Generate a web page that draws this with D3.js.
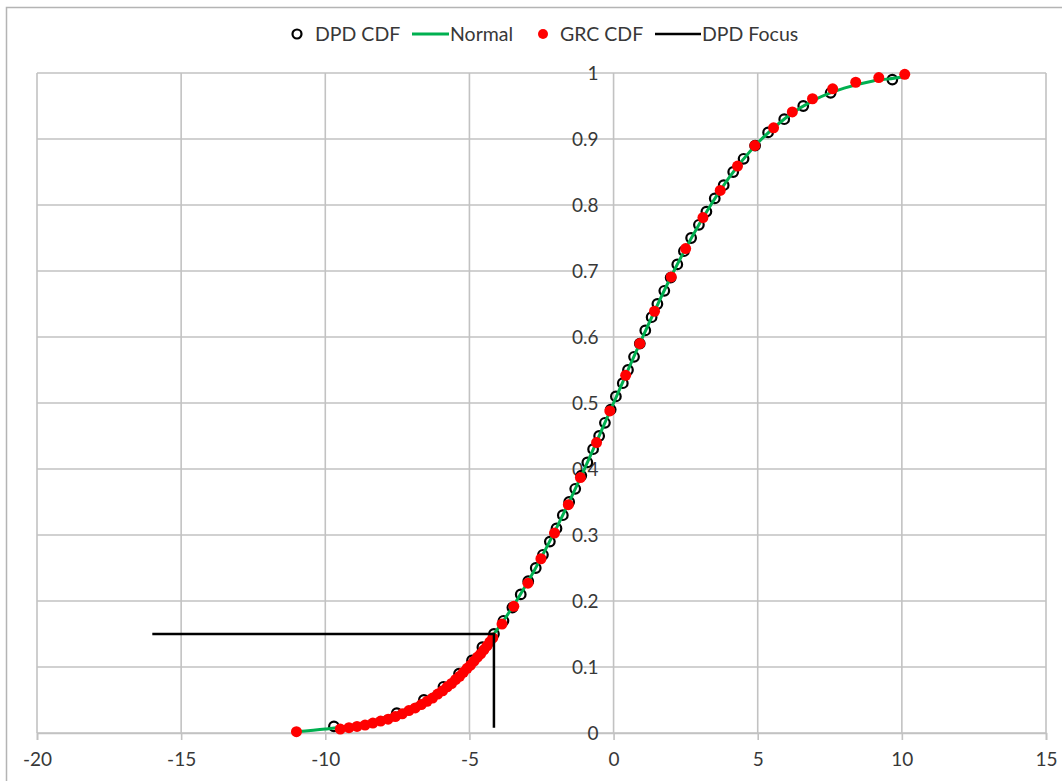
<html>
<head>
<meta charset="utf-8">
<style>
  body { margin: 0; background: #fff; }
  svg text { font-family: Lato, "Open Sans", sans-serif; }
</style>
</head>
<body>
<svg width="1062" height="781" id="chart"></svg>
<script src="https://cdn.jsdelivr.net/npm/d3@7/dist/d3.min.js"></script>
<script>
// DPD CDF (open circles)
var dpdX = [-9.7, -7.52, -6.58, -5.9, -5.36, -4.91, -4.55, -4.15, -3.82, -3.51,
            -3.22, -2.96, -2.7, -2.45, -2.21, -1.98, -1.76, -1.54, -1.33, -1.12,
            -0.91, -0.71, -0.5, -0.3, -0.1, 0.08, 0.32, 0.5, 0.71, 0.91,
            1.1, 1.32, 1.52, 1.76, 1.98, 2.21, 2.44, 2.69, 2.96, 3.22,
            3.51, 3.82, 4.15, 4.51, 4.91, 5.36, 5.92, 6.58, 7.53, 9.67];
var dpdY = [0.01, 0.03, 0.05, 0.07, 0.09, 0.11, 0.13, 0.15, 0.17, 0.19,
            0.21, 0.23, 0.25, 0.27, 0.29, 0.31, 0.33, 0.35, 0.37, 0.39,
            0.41, 0.43, 0.45, 0.47, 0.49, 0.51, 0.53, 0.55, 0.57, 0.59,
            0.61, 0.63, 0.65, 0.67, 0.69, 0.71, 0.73, 0.75, 0.77, 0.79,
            0.81, 0.83, 0.85, 0.87, 0.89, 0.91, 0.93, 0.95, 0.97, 0.99];

// Normal (green line)
var normX = [-11, -10, -9, -8, -7, -6, -5, -4, -3, -2, -1, 0, 1, 2, 3, 4, 5, 6, 7, 8, 9, 10, 10.1];
var normY = [0.002, 0.006, 0.012, 0.023, 0.040, 0.067, 0.106, 0.159, 0.227, 0.309, 0.401, 0.5,
             0.599, 0.692, 0.773, 0.841, 0.894, 0.933, 0.960, 0.977, 0.988, 0.994, 0.995];

// GRC CDF (red dots)
var grcX = [-11.0, -9.48, -9.18, -8.9, -8.62, -8.35, -8.08, -7.82, -7.57, -7.33,
            -7.1, -6.88, -6.67, -6.47, -6.28, -6.1, -5.93, -5.77, -5.62, -5.48,
            -5.34, -5.21, -5.08, -4.96, -4.84, -4.72, -4.61, -4.5, -4.39, -4.29,
            -4.19, -3.87, -3.46, -2.97, -2.52, -2.05, -1.57, -1.15, -0.59, -0.13,
            0.42, 0.91, 1.42, 2.0, 2.5, 3.1, 3.7, 4.3, 4.9, 5.55,
            6.2, 6.9, 7.6, 8.4, 9.2, 10.1];
var grcY = [0.002, 0.006, 0.008, 0.010, 0.012, 0.015, 0.018, 0.021, 0.025, 0.029,
            0.034, 0.038, 0.043, 0.048, 0.053, 0.059, 0.064, 0.070, 0.075, 0.081,
            0.086, 0.092, 0.098, 0.103, 0.109, 0.115, 0.120, 0.126, 0.132, 0.138,
            0.144, 0.165, 0.192, 0.227, 0.264, 0.303, 0.346, 0.387, 0.440, 0.488,
            0.542, 0.590, 0.639, 0.691, 0.734, 0.781, 0.822, 0.859, 0.890, 0.917,
            0.941, 0.961, 0.976, 0.986, 0.993, 0.998];

// DPD Focus (black line)
var focusX = [-16, -4.15, -4.15];
var focusY = [0.15, 0.15, 0.008];

var xTicks = [-20, -15, -10, -5, 0, 5, 10, 15];
var yTicks = [0, 0.1, 0.2, 0.3, 0.4, 0.5, 0.6, 0.7, 0.8, 0.9, 1];

var legendNames = ["DPD CDF", "Normal", "GRC CDF", "DPD Focus"];

var svg = d3.select("#chart");

var x = d3.scaleLinear().domain([-20, 15]).range([37, 1046]);
var y = d3.scaleLinear().domain([0, 1]).range([733, 73]);

var gridColor = "#c2c2c2";
var textColor = "#383838";

// chart frame
svg.append("rect")
  .attr("x", 6.5).attr("y", 7.5)
  .attr("width", 1070).attr("height", 790)
  .attr("fill", "none")
  .attr("stroke", "#b4b4b4")
  .attr("stroke-width", 1.5);

// gridlines
svg.append("g").selectAll("line")
  .data(yTicks)
  .enter().append("line")
  .attr("x1", x(-20)).attr("x2", x(15))
  .attr("y1", function(d) { return y(d); })
  .attr("y2", function(d) { return y(d); })
  .attr("stroke", gridColor)
  .attr("stroke-width", 1.6);

svg.append("g").selectAll("line")
  .data(xTicks)
  .enter().append("line")
  .attr("y1", y(0)).attr("y2", y(1))
  .attr("x1", function(d) { return x(d); })
  .attr("x2", function(d) { return x(d); })
  .attr("stroke", gridColor)
  .attr("stroke-width", 1.6);

// x axis at bottom
var xAxis = svg.append("g")
  .attr("transform", "translate(0," + y(0) + ")")
  .call(d3.axisBottom(x).tickValues(xTicks).tickSize(7).tickPadding(13)
    .tickFormat(function(d) { return String(d); }));
xAxis.select(".domain").attr("stroke", gridColor).attr("stroke-width", 1.6);
xAxis.selectAll(".tick line").attr("stroke", gridColor).attr("stroke-width", 1.6);
xAxis.selectAll("text")
  .attr("fill", textColor)
  .style("font-size", "19px");

// y axis crossing at x = 0
var yAxis = svg.append("g")
  .attr("transform", "translate(" + x(0) + ",0)")
  .call(d3.axisLeft(y).tickValues(yTicks).tickSize(0).tickPadding(15)
    .tickFormat(function(d) { return String(+d.toFixed(1)); }));
yAxis.select(".domain").remove();
yAxis.selectAll("text")
  .attr("fill", textColor)
  .style("font-size", "19px");

// DPD CDF circles
var dpd = dpdX.map(function(v, i) { return [v, dpdY[i]]; });
svg.append("g").selectAll("circle")
  .data(dpd)
  .enter().append("circle")
  .attr("cx", function(d) { return x(d[0]); })
  .attr("cy", function(d) { return y(d[1]); })
  .attr("r", 4.8)
  .attr("fill", "none")
  .attr("stroke", "#000")
  .attr("stroke-width", 2.2);

// Normal line
var norm = normX.map(function(v, i) { return [v, normY[i]]; });
var line = d3.line()
  .x(function(d) { return x(d[0]); })
  .y(function(d) { return y(d[1]); })
  .curve(d3.curveMonotoneX);
svg.append("path")
  .datum(norm)
  .attr("d", line)
  .attr("fill", "none")
  .attr("stroke", "#00b050")
  .attr("stroke-width", 3);

// GRC CDF dots
var grc = grcX.map(function(v, i) { return [v, grcY[i]]; });
svg.append("g").selectAll("circle")
  .data(grc)
  .enter().append("circle")
  .attr("cx", function(d) { return x(d[0]); })
  .attr("cy", function(d) { return y(d[1]); })
  .attr("r", 5.5)
  .attr("fill", "#ff0000");

// DPD Focus
var focus = focusX.map(function(v, i) { return [v, focusY[i]]; });
svg.append("path")
  .datum(focus)
  .attr("d", d3.line()
    .x(function(d) { return x(d[0]); })
    .y(function(d) { return y(d[1]); }))
  .attr("fill", "none")
  .attr("stroke", "#000")
  .attr("stroke-width", 2.5);

// legend
var legend = svg.append("g").attr("transform", "translate(0,34)");
var legX = [297, 412, 543, 655];
var textX = [315, 450, 560, 702];

legend.append("circle").attr("cx", legX[0]).attr("cy", 0).attr("r", 4.5)
  .attr("fill", "none").attr("stroke", "#000").attr("stroke-width", 2.2);
legend.append("line").attr("x1", legX[1]).attr("x2", legX[1] + 37)
  .attr("y1", 0).attr("y2", 0).attr("stroke", "#00b050").attr("stroke-width", 3);
legend.append("circle").attr("cx", legX[2]).attr("cy", 0).attr("r", 5)
  .attr("fill", "#ff0000");
legend.append("line").attr("x1", legX[3]).attr("x2", legX[3] + 46)
  .attr("y1", 0).attr("y2", 0).attr("stroke", "#000").attr("stroke-width", 2.5);

legend.selectAll("text")
  .data(legendNames)
  .enter().append("text")
  .attr("x", function(d, i) { return textX[i]; })
  .attr("y", 0)
  .attr("dy", "0.35em")
  .attr("fill", textColor)
  .style("font-size", "19.5px")
  .text(function(d) { return d; });
</script>
</body>
</html>
